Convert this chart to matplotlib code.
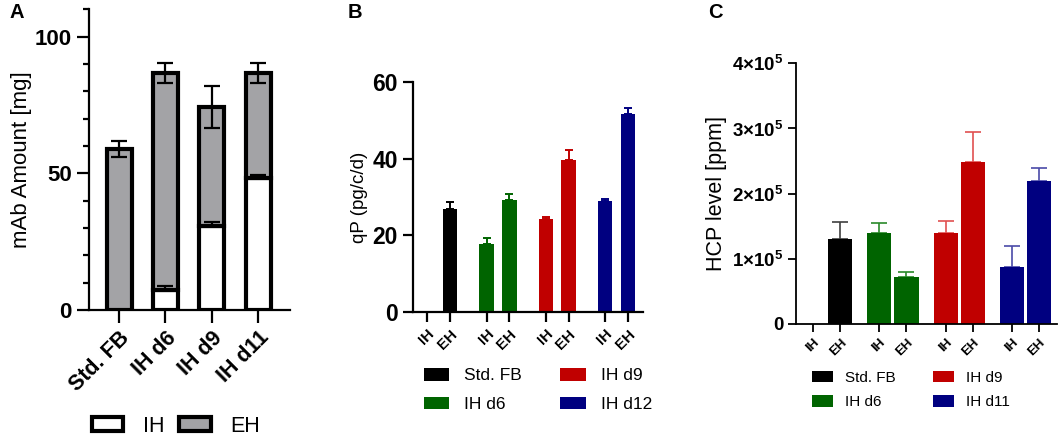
import matplotlib
matplotlib.use('Agg')
import matplotlib.pyplot as plt
import numpy as np
from matplotlib.patches import Patch

plt.rcParams['font.family'] = ['Liberation Sans', 'DejaVu Sans']
plt.rcParams['mathtext.fontset'] = 'custom'
plt.rcParams['mathtext.rm'] = 'Liberation Sans'
plt.rcParams['mathtext.bf'] = 'Liberation Sans:bold'

# --- Panel A: mAb amount, stacked IH + EH ---
a_groups = ['Std. FB', 'IH d6', 'IH d9', 'IH d11']
a_ih = [0.0, 7.3, 30.7, 48.2]
a_ih_err = [0.0, 1.6, 1.4, 1.3]
a_eh = [59.0, 79.3, 43.5, 38.4]
a_eh_err = [3.0, 3.6, 7.8, 3.6]

# --- Panel B: qP (pg/c/d) ---
b_groups = ['Std. FB', 'IH d6', 'IH d9', 'IH d12']
b_ih = [0.0, 17.9, 24.2, 28.95]
b_ih_err = [0.0, 1.4, 0.7, 0.45]
b_eh = [26.8, 29.1, 39.6, 51.5]
b_eh_err = [2.0, 1.6, 2.7, 1.6]

# --- Panel C: HCP level (ppm) ---
c_groups = ['Std. FB', 'IH d6', 'IH d9', 'IH d11']
c_ih = [0.0, 1.39e5, 1.39e5, 0.87e5]
c_ih_err = [0.0, 0.155e5, 0.195e5, 0.32e5]
c_eh = [1.30e5, 0.716e5, 2.49e5, 2.19e5]
c_eh_err = [0.26e5, 0.084e5, 0.45e5, 0.20e5]

colors = ['#000000', '#006400', '#c00000', '#000080']
err_light = ['#404040', '#2a8a2a', '#e05050', '#4a4aa8']

W, H = 1059, 437
fig = plt.figure(figsize=(W / 100, H / 100), dpi=100)


def fbox(x0, x1, ytop, ybot):
    return [x0 / W, 1 - ybot / H, (x1 - x0) / W, (ybot - ytop) / H]


# ---------------- A ----------------
axA = fig.add_axes(fbox(89, 290, 9.3, 310))
xa = np.arange(len(a_groups))
bw = 0.54
axA.bar(xa, a_ih, bw, color='white', edgecolor='black', linewidth=3, zorder=2)
axA.bar(xa, a_eh, bw, bottom=a_ih, color='#a3a3a6', edgecolor='black',
        linewidth=3, zorder=2)
tops = np.array(a_ih) + np.array(a_eh)
axA.errorbar(xa, tops, yerr=a_eh_err, fmt='none', ecolor='black',
             elinewidth=1.6, capsize=6, capthick=1.6, zorder=3)
ih = np.array(a_ih)
axA.errorbar(xa[ih > 0], ih[ih > 0],
             yerr=[np.zeros((ih > 0).sum()), np.array(a_ih_err)[ih > 0]],
             fmt='none', ecolor='black', elinewidth=1.6, capsize=6,
             capthick=1.6, zorder=3)
axA.set_ylim(0, 110)
axA.set_xlim(-0.648, 3.69)
axA.set_yticks([0, 50, 100])
axA.set_yticks(np.arange(0, 111, 10), minor=True)
axA.set_xticks(xa)
axA.set_xticklabels(a_groups, rotation=45, ha='right', rotation_mode='anchor',
                    fontsize=15.5, fontweight='bold')
for lab in axA.get_yticklabels():
    lab.set_fontweight('bold')
    lab.set_fontsize(16)
axA.tick_params(axis='both', which='major', length=9, width=1.6)
axA.tick_params(axis='y', which='minor', length=4.5, width=1.6)
axA.set_ylabel('mAb Amount [mg]', fontsize=16, labelpad=2)
for s in ['top', 'right']:
    axA.spines[s].set_visible(False)
for s in ['left', 'bottom']:
    axA.spines[s].set_linewidth(1.6)
fig.legend(handles=[Patch(facecolor='white', edgecolor='black', linewidth=3, label='IH'),
                    Patch(facecolor='#a3a3a6', edgecolor='black', linewidth=3, label='EH')],
           loc='center', bbox_to_anchor=(176 / W, 1 - 426 / H), ncol=2,
           frameon=False, fontsize=15.5, handlelength=1.45, handleheight=0.6,
           handletextpad=0.9, columnspacing=0.7)


def paired(ax, ih_v, ih_e, eh_v, eh_e, gap, bw, lw, cap, ecols):
    n = len(ih_v)
    pos_ih = np.arange(n) * gap
    pos_eh = pos_ih + 1
    for i in range(n):
        for p, v, e in ((pos_ih[i], ih_v[i], ih_e[i]), (pos_eh[i], eh_v[i], eh_e[i])):
            if v <= 0:
                continue
            ax.bar(p, v, bw, color=colors[i], zorder=2)
            ax.errorbar(p, v, yerr=[[0], [e]], fmt='none', ecolor=ecols[i],
                        elinewidth=lw, capsize=cap, capthick=lw, zorder=1)
    ticks = np.sort(np.concatenate([pos_ih, pos_eh]))
    ax.set_xticks(ticks)
    ax.set_xticklabels(['IH', 'EH'] * n, rotation=45, ha='right',
                       rotation_mode='anchor', fontweight='bold')
    for s in ['top', 'right']:
        ax.spines[s].set_visible(False)


# ---------------- B ----------------
axB = fig.add_axes(fbox(412.7, 643, 81.7, 312.3))
paired(axB, b_ih, b_ih_err, b_eh, b_eh_err, gap=2.61, bw=0.64, lw=1.4, cap=3,
       ecols=colors)
axB.set_xlim(-0.643, 9.5)
axB.set_ylim(0, 60)
axB.set_yticks([0, 20, 40, 60])
for lab in axB.get_yticklabels():
    lab.set_fontweight('bold')
    lab.set_fontsize(16.5)
for lab in axB.get_xticklabels():
    lab.set_fontsize(11)
axB.tick_params(axis='both', length=7, width=1.6)
axB.set_ylabel('qP (pg/c/d)', fontsize=13.5, labelpad=3)
for s in ['left', 'bottom']:
    axB.spines[s].set_linewidth(1.6)
fig.legend(handles=[Patch(facecolor=c, label=g) for c, g in zip(colors, b_groups)],
           loc='center', bbox_to_anchor=(538 / W, 1 - 390 / H), ncol=2,
           frameon=False, fontsize=12.5, handlelength=1.45, handleheight=0.75,
           handletextpad=0.9, columnspacing=2.2, labelspacing=0.75)

# ---------------- C ----------------
axC = fig.add_axes(fbox(796, 1056.7, 63.3, 324))
paired(axC, c_ih, c_ih_err, c_eh, c_eh_err, gap=2.45, bw=0.89, lw=1.2, cap=6,
       ecols=err_light)
axC.set_xlim(-0.64, 9.01)
axC.set_ylim(0, 4e5)
axC.set_yticks([0, 1e5, 2e5, 3e5, 4e5])
axC.set_yticklabels(['0'] + [r'$\mathbf{%d{\times}10^{5}}$' % k for k in range(1, 5)],
                    fontsize=13.5, fontweight='bold')
for lab in axC.get_xticklabels():
    lab.set_fontsize(9.5)
axC.tick_params(axis='both', length=5.5, width=1.3)
axC.set_ylabel('HCP level [ppm]', fontsize=15.5)
for s in ['left', 'bottom']:
    axC.spines[s].set_linewidth(1.3)
fig.legend(handles=[Patch(facecolor=c, label=g) for c, g in zip(colors, c_groups)],
           loc='center', bbox_to_anchor=(911 / W, 1 - 390 / H), ncol=2,
           frameon=False, fontsize=11, handlelength=1.4, handleheight=0.75,
           handletextpad=0.8, columnspacing=2.4, labelspacing=0.7)

# panel letters
fig.text(10 / W, 1 - 12 / H, 'A', fontsize=14.5, fontweight='bold', va='center')
fig.text(348 / W, 1 - 12 / H, 'B', fontsize=14.5, fontweight='bold', va='center')
fig.text(708 / W, 1 - 12 / H, 'C', fontsize=14.5, fontweight='bold', va='center')

fig.savefig('out.png', dpi=100)
